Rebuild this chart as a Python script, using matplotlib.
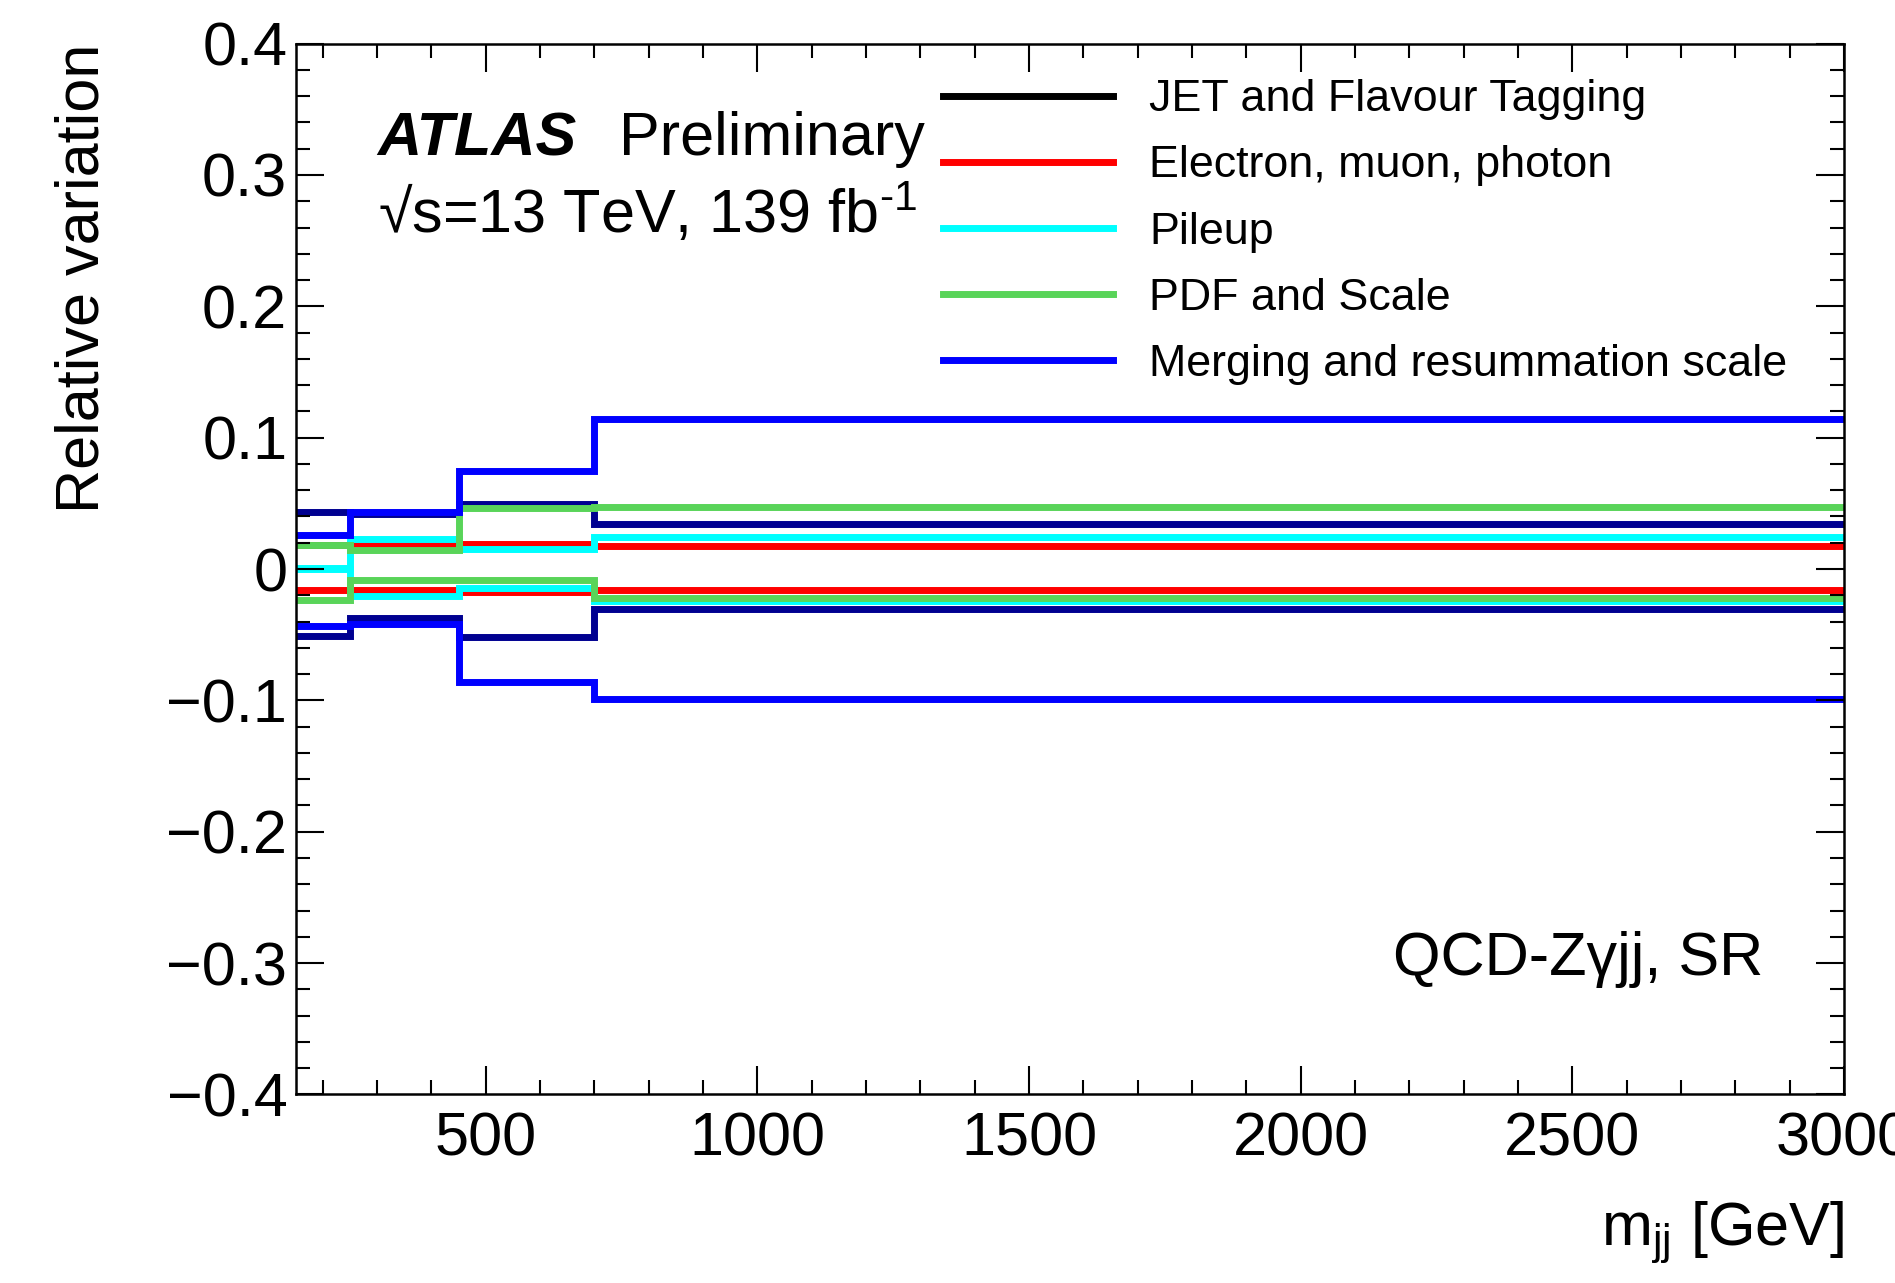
import matplotlib
matplotlib.use("Agg")
import matplotlib.pyplot as plt
from matplotlib.lines import Line2D
from matplotlib.ticker import MultipleLocator, FuncFormatter

plt.rcParams["font.family"] = ["Liberation Sans", "DejaVu Sans"]
plt.rcParams["mathtext.fontset"] = "custom"
plt.rcParams["mathtext.rm"] = "Liberation Sans"
plt.rcParams["mathtext.it"] = "Liberation Sans:italic"

# m_jj bin edges [GeV]
edges = [150, 250, 450, 700, 3000]

# relative up / down variations per bin
jet_up = [0.0433, 0.042, 0.0494, 0.0341]
jet_down = [-0.0512, -0.037, -0.0517, -0.0301]
lep_up = [0.018, 0.0187, 0.0192, 0.0176]
lep_down = [-0.0162, -0.0162, -0.0174, -0.0162]
pu_up = [0.001, 0.0225, 0.0156, 0.0247]
pu_down = [0.0, -0.0207, -0.0144, -0.0247]
pdf_up = [0.0179, 0.0143, 0.0465, 0.0473]
pdf_down = [-0.0238, -0.008, -0.0083, -0.022]
mrg_up = [0.0257, 0.0433, 0.0747, 0.1139]
mrg_down = [-0.0436, -0.0418, -0.0862, -0.0989]

labels = [
    "JET and Flavour Tagging",
    "Electron, muon, photon",
    "Pileup",
    "PDF and Scale",
    "Merging and resummation scale",
]
line_colors = ["#000090", "#ff0000", "#00ffff", "#59d459", "#0000ff"]
legend_colors = ["#000000", "#ff0000", "#00ffff", "#59d459", "#0000ff"]
variations = [
    (jet_up, jet_down),
    (lep_up, lep_down),
    (pu_up, pu_down),
    (pdf_up, pdf_down),
    (mrg_up, mrg_down),
]

fig = plt.figure(figsize=(18.95, 12.83), dpi=100)
ax = fig.add_axes([0.156, 0.147, 0.817, 0.819])

lw = 5
for (up, down), col in zip(variations, line_colors):
    ax.stairs(up, edges, baseline=None, color=col, lw=lw)
    ax.stairs(down, edges, baseline=None, color=col, lw=lw)

ax.set_xlim(150, 3000)
ax.set_ylim(-0.4, 0.4)

ax.xaxis.set_major_locator(MultipleLocator(500))
ax.xaxis.set_minor_locator(MultipleLocator(100))
ax.yaxis.set_major_locator(MultipleLocator(0.1))
ax.yaxis.set_minor_locator(MultipleLocator(0.02))


def yfmt(v, pos):
    s = f"{v:.1f}"
    if abs(v) < 1e-9:
        return "0"
    return s.replace("-", "\u2212")


ax.yaxis.set_major_formatter(FuncFormatter(yfmt))
ax.tick_params(which="both", direction="in", top=True, right=True, width=1.5, labelsize=44)
ax.tick_params(which="major", length=20)
ax.tick_params(which="minor", length=10)
ax.tick_params(axis="x", pad=12)
ax.tick_params(axis="y", pad=6)
for sp in ax.spines.values():
    sp.set_linewidth(1.8)

ax.set_xlabel("m$_{\\mathrm{jj}}$ [GeV]", fontsize=44, loc="right")
ax.xaxis.set_label_coords(1.0, -0.10)
ax.set_ylabel("Relative variation", fontsize=44, loc="top")
ax.yaxis.set_label_coords(-0.119, 1.0)

ax.text(0.053, 0.894, "ATLAS", transform=ax.transAxes, fontsize=44,
        fontweight="bold", fontstyle="italic", va="baseline")
ax.text(0.209, 0.894, "Preliminary", transform=ax.transAxes, fontsize=44,
        va="baseline")
ax.text(0.053, 0.820, "\u221as=13 TeV, 139 fb$^{\\text{-1}}$", transform=ax.transAxes,
        fontsize=44, va="baseline")
ax.text(0.948, 0.114, "QCD-Z\u03b3jj, SR", transform=ax.transAxes, fontsize=44,
        ha="right", va="baseline")

handles = [Line2D([], [], color=c, lw=lw) for c in legend_colors]
ax.legend(handles, labels, loc="upper left", bbox_to_anchor=(0.418, 0.966),
          frameon=False, fontsize=32.3, handlelength=3.8, handletextpad=0.8,
          labelspacing=0.56, borderaxespad=0, borderpad=0)

fig.savefig("out.png", dpi=100)
